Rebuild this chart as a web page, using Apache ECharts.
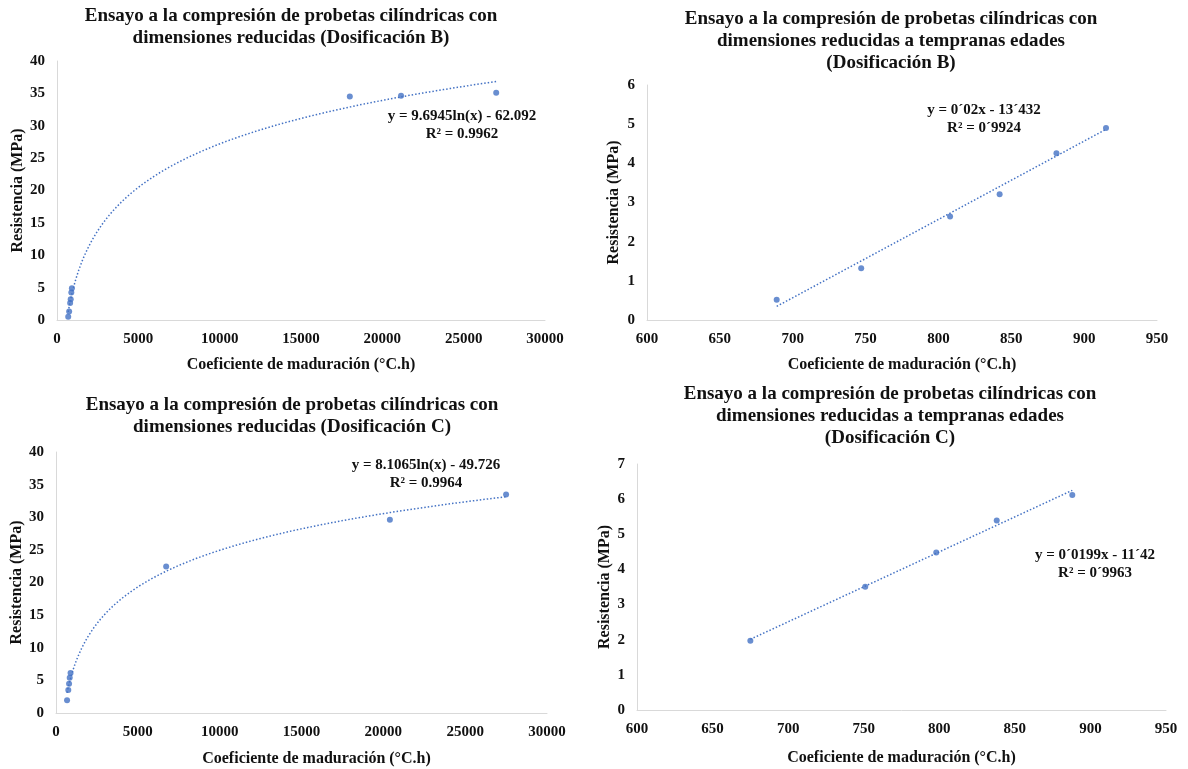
<!DOCTYPE html>
<html>
<head>
<meta charset="utf-8">
<script src="https://cdn.jsdelivr.net/npm/echarts@6/dist/echarts.min.js"></script>
<style>
  html, body { margin: 0; padding: 0; background: #ffffff; }
  #chart { width: 1188px; height: 769px; }
</style>
</head>
<body>
<div id="chart"></div>
<script>
// Dosificación B – full curing range
const bMaduracion = [689, 747, 808, 842, 881, 915, 18000, 21150, 27000];
const bResistencia = [0.52, 1.32, 2.64, 3.21, 4.26, 4.9, 34.5, 34.65, 35.1];
// Dosificación B – early ages
const bTempMaduracion = [689, 747, 808, 842, 881, 915];
const bTempResistencia = [0.52, 1.32, 2.64, 3.21, 4.26, 4.9];
// Dosificación C – full curing range
const cMaduracion = [675, 751, 798, 838, 888, 6730, 20400, 27500];
const cResistencia = [1.97, 3.51, 4.48, 5.39, 6.12, 22.45, 29.6, 33.5];
// Dosificación C – early ages
const cTempMaduracion = [675, 751, 798, 838, 888];
const cTempResistencia = [1.97, 3.51, 4.48, 5.39, 6.12];

// Regression coefficients printed with each trendline
const bLog = { a: 9.6945, b: -62.092, r2: '0.9962' };
const cLog = { a: 8.1065, b: -49.726, r2: '0.9964' };
const bLin = { m: '0´02', b: '13´432', r2: '0´9924', mv: 0.02, bv: -13.432 };
const cLin = { m: '0´0199', b: '11´42', r2: '0´9963', mv: 0.0199, bv: -11.42 };

const titles = [
  'Ensayo a la compresión de probetas cilíndricas con\ndimensiones reducidas (Dosificación B)',
  'Ensayo a la compresión de probetas cilíndricas con\ndimensiones reducidas a tempranas edades\n(Dosificación B)',
  'Ensayo a la compresión de probetas cilíndricas con\ndimensiones reducidas (Dosificación C)',
  'Ensayo a la compresión de probetas cilíndricas con\ndimensiones reducidas a tempranas edades\n(Dosificación C)'
];
const xName = 'Coeficiente de maduración (°C.h)';
const yName = 'Resistencia (MPa)';

const FONT = '"Liberation Serif", "Times New Roman", serif';
const BLUE = '#4472C4';
const AXIS = '#d9d9d9';

function pairs(xs, ys) { return xs.map((x, i) => [x, ys[i]]); }

// Logarithmic trendline y = a·ln(x) + b sampled between the first and last point
function logTrend(c, x0, x1) {
  const pts = [];
  const n = 200;
  for (let i = 0; i <= n; i++) {
    const x = x0 * Math.pow(x1 / x0, i / n);
    pts.push([x, c.a * Math.log(x) + c.b]);
  }
  return pts;
}
function linTrend(c, x0, x1) {
  return [[x0, c.mv * x0 + c.bv], [x1, c.mv * x1 + c.bv]];
}

const grids = [
  { left: 57, top: 61, width: 488, height: 259 },
  { left: 647, top: 85, width: 510, height: 235 },
  { left: 56, top: 452, width: 491, height: 261 },
  { left: 637, top: 464, width: 529, height: 246 }
];

const xRanges = [
  { min: 0, max: 30000, interval: 5000 },
  { min: 600, max: 950, interval: 50 },
  { min: 0, max: 30000, interval: 5000 },
  { min: 600, max: 950, interval: 50 }
];
const yRanges = [
  { min: 0, max: 40, interval: 5 },
  { min: 0, max: 6, interval: 1 },
  { min: 0, max: 40, interval: 5 },
  { min: 0, max: 7, interval: 1 }
];
const xNameGaps = [37, 37, 38, 40];
const yNameGaps = [30, 25, 30, 24];

const labelStyle = { color: '#111', fontFamily: FONT, fontWeight: 'bold', fontSize: 15, margin: 12, formatter: v => String(v) };
const nameStyle = { color: '#111', fontFamily: FONT, fontWeight: 'bold', fontSize: 16 };

const xAxes = xRanges.map((r, i) => ({
  type: 'value', gridIndex: i, min: r.min, max: r.max, interval: r.interval,
  name: xName, nameLocation: 'middle', nameGap: xNameGaps[i],
  nameTextStyle: Object.assign({}, nameStyle, i === 2 ? { padding: [0, 0, 0, 30] } : {}),
  axisLine: { show: true, lineStyle: { color: AXIS, width: 1 } },
  axisTick: { show: false }, splitLine: { show: false },
  axisLabel: labelStyle
}));
const yAxes = yRanges.map((r, i) => ({
  type: 'value', gridIndex: i, min: r.min, max: r.max, interval: r.interval,
  name: yName, nameLocation: 'middle', nameGap: yNameGaps[i],
  nameTextStyle: nameStyle,
  axisLine: { show: true, lineStyle: { color: AXIS, width: 1 } },
  axisTick: { show: false }, splitLine: { show: false },
  axisLabel: labelStyle
}));

function scatter(i, data) {
  return {
    type: 'scatter', xAxisIndex: i, yAxisIndex: i, data: data,
    symbol: 'circle', symbolSize: 6, itemStyle: { color: BLUE }, z: 3
  };
}
function trend(i, data) {
  return {
    type: 'line', xAxisIndex: i, yAxisIndex: i, data: data,
    showSymbol: false, smooth: false,
    lineStyle: { color: BLUE, width: 1.5, type: [1.5, 2] }, z: 2
  };
}

const series = [
  trend(0, logTrend(bLog, bMaduracion[0], bMaduracion[bMaduracion.length - 1])),
  scatter(0, pairs(bMaduracion, bResistencia)),
  trend(1, linTrend(bLin, bTempMaduracion[0], bTempMaduracion[bTempMaduracion.length - 1])),
  scatter(1, pairs(bTempMaduracion, bTempResistencia)),
  trend(2, logTrend(cLog, cMaduracion[0], cMaduracion[cMaduracion.length - 1])),
  scatter(2, pairs(cMaduracion, cResistencia)),
  trend(3, linTrend(cLin, cTempMaduracion[0], cTempMaduracion[cTempMaduracion.length - 1])),
  scatter(3, pairs(cTempMaduracion, cTempResistencia))
];

const titleOpts = [
  { text: titles[0], left: 286, top: 0 },
  { text: titles[1], left: 886, top: 3 },
  { text: titles[2], left: 287, top: 389 },
  { text: titles[3], left: 885, top: 378 }
].map(t => ({
  text: t.text, left: t.left, top: t.top, textAlign: 'center',
  textStyle: { fontFamily: FONT, fontWeight: 'bold', fontSize: 19, color: '#111', lineHeight: 22 }
}));

const eqLabels = [
  { x: 462, y: 107, text: 'y = ' + bLog.a + 'ln(x) - ' + (-bLog.b) + '\nR² = ' + bLog.r2 },
  { x: 984, y: 101, text: 'y = ' + bLin.m + 'x - ' + bLin.b + '\nR² = ' + bLin.r2 },
  { x: 426, y: 456, text: 'y = ' + cLog.a + 'ln(x) - ' + (-cLog.b) + '\nR² = ' + cLog.r2 },
  { x: 1095, y: 546, text: 'y = ' + cLin.m + 'x - ' + cLin.b + '\nR² = ' + cLin.r2 }
];

const graphic = eqLabels.map(e => ({
  type: 'text', x: e.x, y: e.y,
  style: {
    text: e.text, align: 'center', verticalAlign: 'top',
    font: 'bold 15px ' + FONT, fill: '#111', lineHeight: 18
  }
}));

const chart = echarts.init(document.getElementById('chart'), null, { renderer: 'canvas' });
chart.setOption({
  backgroundColor: '#ffffff',
  animation: false,
  title: titleOpts,
  grid: grids,
  xAxis: xAxes,
  yAxis: yAxes,
  series: series,
  graphic: graphic
});
</script>
</body>
</html>
